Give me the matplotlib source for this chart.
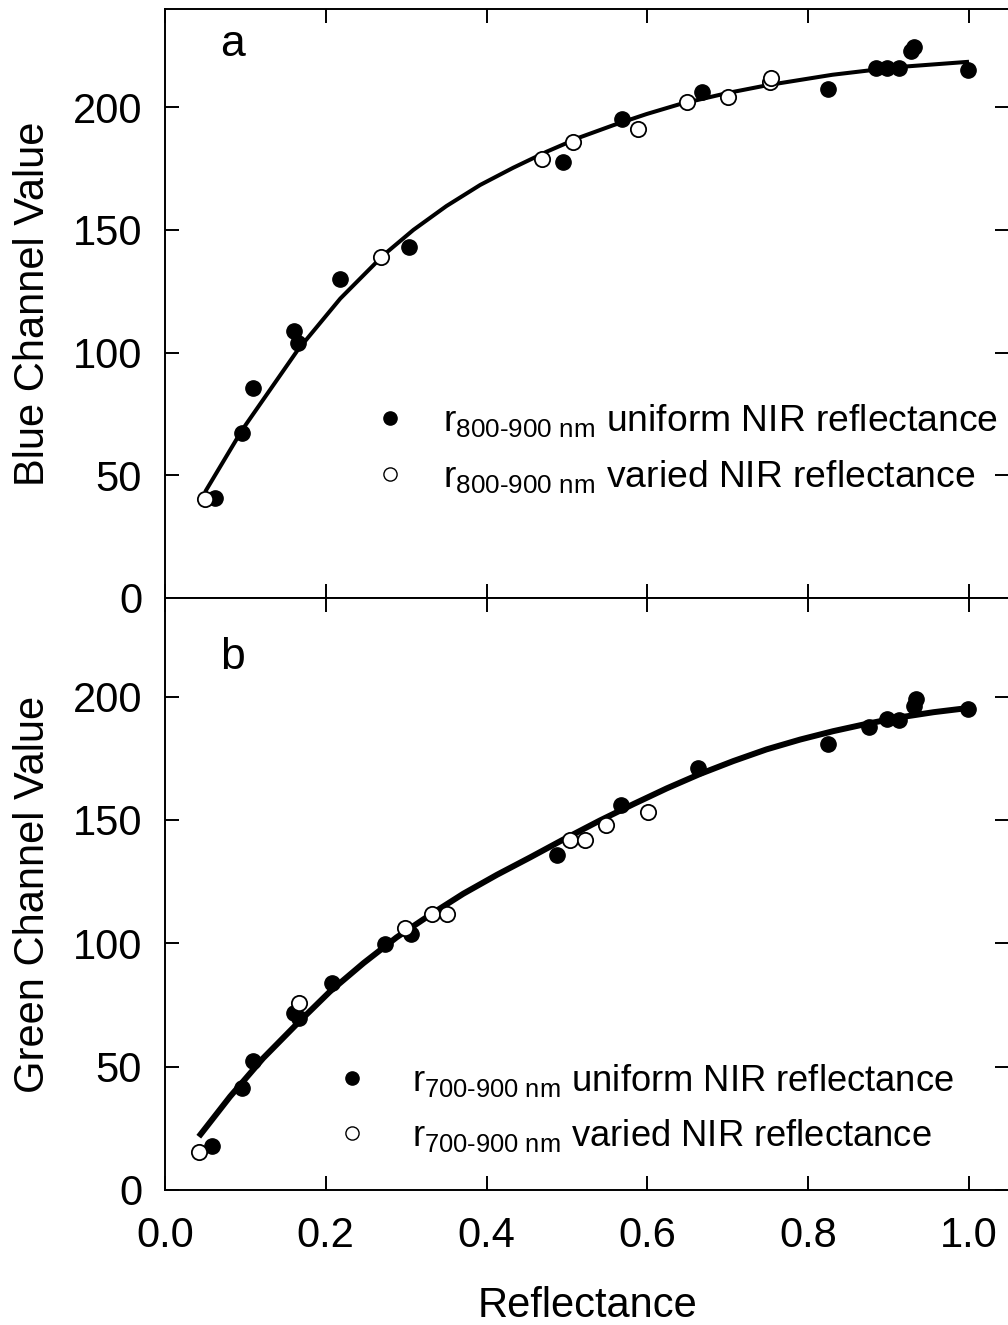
import matplotlib
matplotlib.use("Agg")
import matplotlib.pyplot as plt
from matplotlib.lines import Line2D

plt.rcParams["font.family"] = ["Liberation Sans", "DejaVu Sans"]
plt.rcParams["mathtext.fontset"] = "custom"
plt.rcParams["mathtext.rm"] = "Liberation Sans"
plt.rcParams["mathtext.it"] = "Liberation Sans:italic"

# --- panel a : blue channel vs reflectance (800-900 nm) ---
blue_unif_x = [0.062, 0.096, 0.110, 0.160, 0.166, 0.218, 0.304, 0.495, 0.569, 0.668,
               0.824, 0.884, 0.898, 0.913, 0.928, 0.932, 0.999]
blue_unif_y = [40.9, 67.4, 85.7, 108.8, 103.8, 129.9, 143.0, 177.8, 195.1, 206.2,
               207.3, 216.0, 216.0, 216.0, 222.9, 224.5, 215.2]
blue_var_x = [0.050, 0.269, 0.469, 0.507, 0.588, 0.649, 0.700, 0.752, 0.754]
blue_var_y = [40.3, 139.1, 178.9, 185.9, 191.1, 202.1, 204.0, 210.3, 211.9]
# fitted curve
blue_fit_x = [0.050, 0.096, 0.165, 0.218, 0.272, 0.309, 0.350, 0.392, 0.433, 0.475,
              0.516, 0.558, 0.599, 0.641, 0.700, 0.750, 0.830, 0.910, 1.000]
blue_fit_y = [43.3, 68.5, 101.0, 122.0, 139.8, 150.0, 159.7, 168.3, 175.3, 181.9,
              187.7, 192.7, 197.2, 201.3, 205.8, 209.0, 213.2, 216.3, 218.5]

# --- panel b : green channel vs reflectance (700-900 nm) ---
green_unif_x = [0.058, 0.096, 0.109, 0.160, 0.167, 0.208, 0.273, 0.306, 0.488, 0.567,
                0.663, 0.825, 0.876, 0.898, 0.913, 0.932, 0.934, 0.999]
green_unif_y = [18.0, 41.2, 52.1, 71.8, 69.6, 83.8, 99.8, 103.9, 136.0, 156.1,
                171.1, 180.9, 187.7, 190.9, 190.7, 196.1, 199.1, 195.0]
green_var_x = [0.042, 0.167, 0.299, 0.332, 0.351, 0.504, 0.522, 0.548, 0.601]
green_var_y = [15.5, 75.6, 106.2, 112.0, 112.0, 141.7, 142.0, 147.9, 153.1]
green_fit_x = [0.042, 0.081, 0.122, 0.164, 0.205, 0.247, 0.288, 0.330, 0.371, 0.413,
               0.454, 0.495, 0.541, 0.583, 0.624, 0.665, 0.707, 0.748, 0.790, 0.831,
               0.873, 0.914, 0.956, 0.999]
green_fit_y = [21.6, 37.9, 53.4, 67.3, 80.4, 92.0, 102.4, 111.6, 120.1, 127.8,
               134.8, 142.0, 149.8, 156.5, 162.8, 168.6, 173.9, 178.6, 182.6, 186.0,
               189.0, 191.6, 193.7, 195.4]

yticks = [0, 50, 100, 150, 200]
xticks = [0.0, 0.2, 0.4, 0.6, 0.8, 1.0]

TICK_FS = 30


def style_axe(ax, show_xlabels):
    ax.set_xlim(0, 1.05)
    ax.set_ylim(0, 240)
    ax.set_xticks(xticks)
    ax.set_yticks(yticks)
    ax.tick_params(direction="in", length=10, width=1.4, top=True, right=True,
                   labelsize=TICK_FS)
    ax.tick_params(axis="y", pad=16.5)
    ax.tick_params(axis="x", pad=19)
    if not show_xlabels:
        ax.tick_params(labelbottom=False)
    else:
        ax.set_xticklabels(["%.1f" % v for v in xticks])
    for sp in ax.spines.values():
        sp.set_linewidth(1.4)


def panel(ax, ux, uy, vx, vy, fx, fy, lw, lab_nm, ylabel, letter, leg_anchor, txtpad, leg_fs):
    ax.plot(fx, fy, color="black", lw=lw, zorder=2, solid_capstyle="butt",
            solid_joinstyle="round")
    ax.plot(ux, uy, "o", color="black", ms=11, zorder=3, ls="none")
    ax.plot(vx, vy, "o", mfc="white", mec="black", mew=1.3, ms=11, zorder=3, ls="none")
    sub = r"$\mathrm{r}_{\text{%s nm}}$" % lab_nm
    handles = [
        Line2D([], [], marker="o", color="black", ls="none", ms=9.5),
        Line2D([], [], marker="o", mfc="white", mec="black", mew=1.0, ls="none", ms=9.5),
    ]
    labels = [sub + " uniform NIR reflectance", sub + " varied NIR reflectance"]
    ax.legend(handles, labels, loc="center left", bbox_to_anchor=leg_anchor,
              frameon=False, fontsize=leg_fs, handlelength=1.0,
              handletextpad=txtpad, labelspacing=0.5, borderpad=0, borderaxespad=0)
    ax.text(0.0794, letter[1], letter[0], transform=ax.transAxes, fontsize=32,
            ha="center", va="center")
    ax.set_ylabel(ylabel, fontsize=TICK_FS)
    ax.yaxis.set_label_coords(-0.133, 0.5)


fig = plt.figure(figsize=(10.08, 13.25), dpi=100)
ax_a = fig.add_axes([0.1637, 0.5487, 0.8375, 0.4445])
ax_b = fig.add_axes([0.1637, 0.1019, 0.8375, 0.4468])

style_axe(ax_a, False)
style_axe(ax_b, True)

panel(ax_a, blue_unif_x, blue_unif_y, blue_var_x, blue_var_y, blue_fit_x, blue_fit_y,
      2.9, "800-900", "Blue Channel Value", ("a", 0.939), (0.2443, 0.2538), 0.92, 26.8)
panel(ax_b, green_unif_x, green_unif_y, green_var_x, green_var_y, green_fit_x, green_fit_y,
      4.3, "700-900", "Green Channel Value", ("b", 0.900), (0.2005, 0.1385), 1.13, 26.2)

ax_b.set_xlabel("Reflectance", fontsize=TICK_FS)
ax_b.xaxis.set_label_coords(0.5, -0.162)

fig.savefig("out.png", dpi=100)
